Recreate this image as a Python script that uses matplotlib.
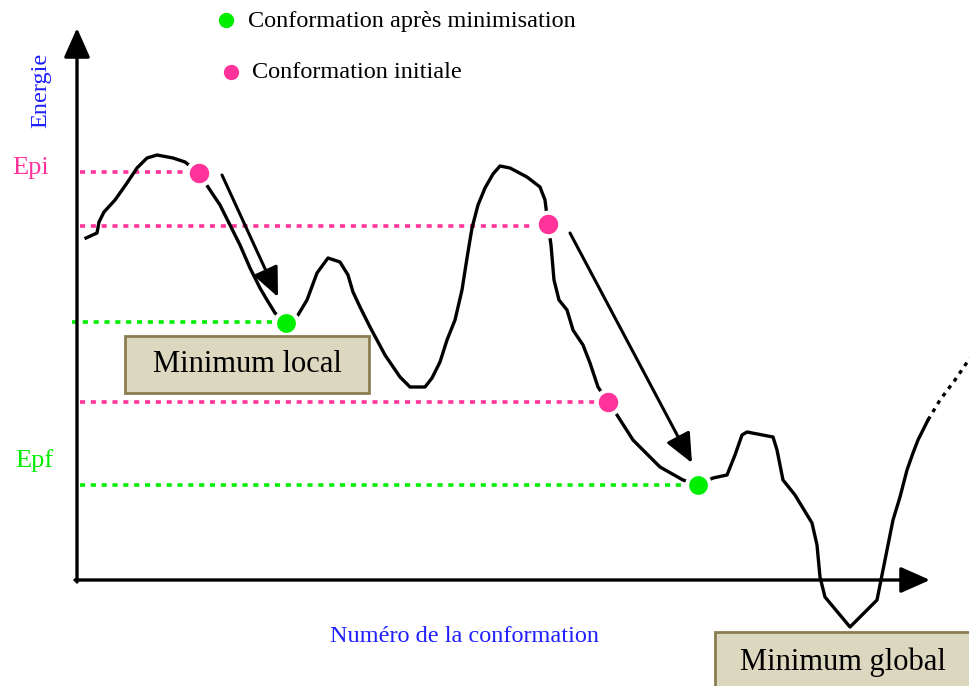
import matplotlib
matplotlib.use("Agg")
import matplotlib.pyplot as plt
from matplotlib.patches import Rectangle, FancyArrowPatch

# ---- data (pixel-space schematic of an energy landscape) ----
curve_x = [86, 97, 99, 104, 115, 127, 137, 147, 157, 173, 185, 199, 208, 220, 230, 240, 250, 260, 267, 275,
           286, 298, 307, 317, 328, 340, 348, 353, 360, 370, 385, 400, 410, 425, 432, 440, 447, 455, 462, 467, 472, 478,
           485, 493, 500, 510, 527, 540, 545, 548, 551, 554, 559, 567, 573, 583, 590, 598, 608, 617, 633, 660, 683,
           698, 713, 727, 735, 742, 747, 773, 777, 783, 795, 812, 817, 820, 825, 850, 877, 880, 885, 893, 900,
           907, 913, 918, 928]
curve_y = [238, 233, 222, 212, 200, 183, 168, 158, 155, 158, 162, 173, 187, 205, 225, 245, 268, 288, 300, 313,
           323, 315, 300, 273, 258, 262, 275, 292, 307, 327, 355, 377, 387, 387, 378, 362, 340, 320, 290, 258, 228, 205,
           188, 174, 166, 168, 177, 187, 200, 224, 245, 280, 300, 310, 330, 345, 363, 387, 402, 415, 440, 467, 480,
           485, 478, 475, 455, 435, 432, 437, 450, 480, 495, 523, 545, 577, 597, 627, 600, 585, 560, 520, 497,
           470, 453, 440, 420]
tail_x = [928, 940, 955, 970]
tail_y = [420, 400, 380, 358]

initial_x = [199, 548, 608]
initial_y = [173, 224, 402]
minimised_x = [286, 698]
minimised_y = [323, 485]

pink_levels = [172, 226, 402]
pink_ends = [190, 540, 598]
green_levels = [322, 485]
green_ends = [276, 688]
green_starts = [72, 80]

minim_arrows = [((222, 175), (278, 297)), ((570, 233), (692, 463))]

PINK = "#FF3399"
GREEN = "#00EE00"
BLUE = "#1E1EFF"
BOXFILL = "#DCD8C0"
BOXEDGE = "#8C7D50"
SERIF = ["Liberation Serif", "DejaVu Serif"]

fig = plt.figure(figsize=(9.7, 6.86), dpi=100)
ax = fig.add_axes([0, 0, 1, 1])
ax.set_xlim(0, 970)
ax.set_ylim(686, 0)
ax.axis("off")

# dotted level lines
for y, xe in zip(pink_levels, pink_ends):
    ax.plot([80, xe], [y, y], color=PINK, lw=2.6, ls=(0, (1.4, 1.6)), zorder=2)
for y, xs, xe in zip(green_levels, green_starts, green_ends):
    ax.plot([xs, xe], [y, y], color=GREEN, lw=2.6, ls=(0, (1.4, 1.6)), zorder=2)

# axes with arrow heads
for start, end in [((77, 582), (77, 28)), ((75, 580), (930, 580))]:
    ax.add_patch(FancyArrowPatch(start, end, arrowstyle="-|>,head_length=18,head_width=8",
                                 mutation_scale=1, lw=2.4, color="black", shrinkA=0, shrinkB=0, zorder=3))

# energy curve
ax.plot(curve_x, curve_y, color="black", lw=2.4, solid_joinstyle="round", zorder=4)
ax.plot(tail_x, tail_y, color="black", lw=2.4, ls=(0, (1.2, 1.6)), zorder=4)

# minimisation arrows
for start, end in minim_arrows:
    ax.add_patch(FancyArrowPatch(start, end, arrowstyle="-|>,head_length=18,head_width=8",
                                 mutation_scale=1, lw=2.2, color="black", shrinkA=0, shrinkB=0, zorder=5))

# points
ax.plot(initial_x, initial_y, "o", color=PINK, ms=17, mec="white", mew=3, zorder=6)
ax.plot(minimised_x, minimised_y, "o", color=GREEN, ms=16.5, mec="white", mew=3, zorder=6)

# legend
ax.plot([226], [20], "o", color=GREEN, ms=10, zorder=6)
ax.plot([231], [72], "o", color=PINK, ms=10, zorder=6)
ax.text(248, 21, "Conformation après minimisation", fontsize=17.5, family=SERIF, va="center", ha="left")
ax.text(252, 72, "Conformation initiale", fontsize=17.5, family=SERIF, va="center", ha="left")

# axis labels
ax.text(12, 168, "Epi", color=PINK, fontsize=19, family=SERIF, va="center", ha="left")
ax.text(15, 461, "Epf", color=GREEN, fontsize=19, family=SERIF, va="center", ha="left")
ax.text(41, 90, "Energie", color=BLUE, fontsize=17.5, family=SERIF, rotation=90, va="center", ha="center")
ax.text(465, 637, "Numéro de la conformation", color=BLUE, fontsize=17.5, family=SERIF, va="center", ha="center")

# boxes
ax.add_patch(Rectangle((125, 336), 244, 57, facecolor=BOXFILL, edgecolor=BOXEDGE, lw=2, zorder=7))
ax.text(247, 365, "Minimum local", fontsize=22, family=SERIF, va="center", ha="center", zorder=8)
ax.add_patch(Rectangle((715, 632), 270, 70, facecolor=BOXFILL, edgecolor=BOXEDGE, lw=2, zorder=7))
ax.text(843, 662, "Minimum global", fontsize=22, family=SERIF, va="center", ha="center", zorder=8)

fig.savefig("out.png", dpi=100)
